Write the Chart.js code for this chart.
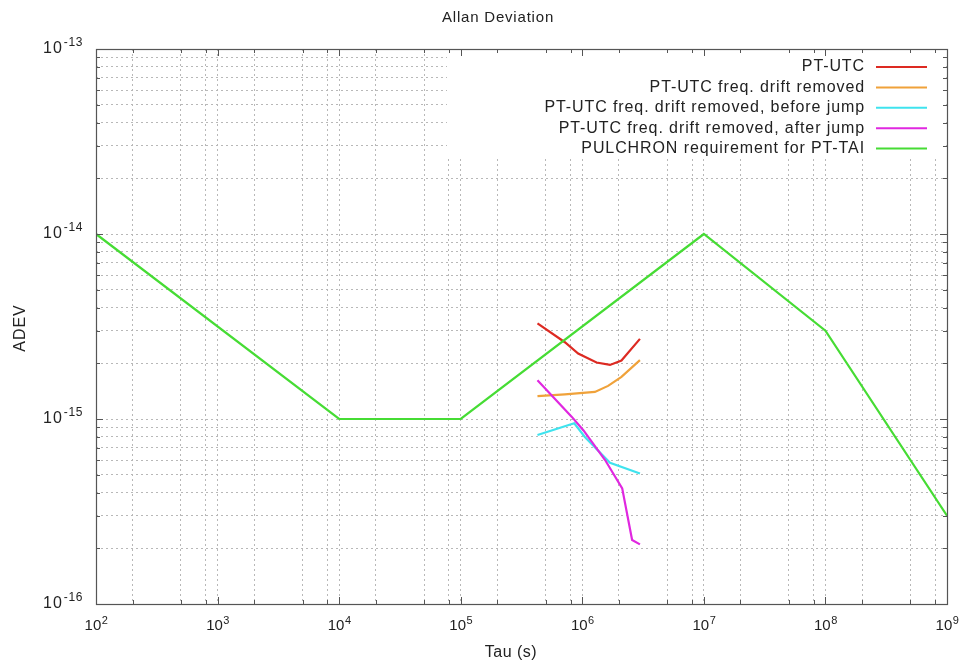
<!DOCTYPE html>
<html>
<head>
<meta charset="utf-8">
<script src="https://cdn.jsdelivr.net/npm/chart.js@4/dist/chart.umd.min.js"></script>
<style>
  html, body { margin: 0; padding: 0; background: #fff; }
  #wrap { width: 961px; height: 664px; }
</style>
</head>
<body>
<div id="wrap"><canvas id="graph" width="961" height="664"></canvas></div>
<script>
// Series (tau in s, ADEV dimensionless)
const tauPtUtc = [4.28e5, 7.19e5, 9.25e5, 1.31e6, 1.69e6, 2.10e6, 2.98e6];
const adevPtUtc = [3.29e-15, 2.60e-15, 2.26e-15, 2.02e-15, 1.96e-15, 2.07e-15, 2.71e-15];

const tauDrift = [4.28e5, 7.19e5, 1.27e6, 1.63e6, 2.10e6, 2.98e6];
const adevDrift = [1.33e-15, 1.36e-15, 1.40e-15, 1.51e-15, 1.69e-15, 2.08e-15];

const tauBefore = [4.28e5, 8.59e5, 1.05e6, 1.69e6, 2.98e6];
const adevBefore = [8.2e-16, 9.48e-16, 8.0e-16, 5.8e-16, 5.08e-16];

const tauAfter = [4.28e5, 8.17e5, 1.02e6, 1.54e6, 2.13e6, 2.57e6, 2.98e6];
const adevAfter = [1.62e-15, 1.03e-15, 8.7e-16, 6.0e-16, 4.22e-16, 2.22e-16, 2.1e-16];

const tauReq = [1e2, 1e4, 1e5, 1e7, 1e8, 1e9];
const adevReq = [1e-14, 1e-15, 1e-15, 1e-14, 3e-15, 3e-16];

const seriesNames = [
  'PT-UTC',
  'PT-UTC freq. drift removed',
  'PT-UTC freq. drift removed, before jump',
  'PT-UTC freq. drift removed, after jump',
  'PULCHRON requirement for PT-TAI'
];
const seriesColors = ['#dd2a22', '#f0a23a', '#3fe3ee', '#e028e0', '#46dc34'];

// axis decades and minor tick multipliers
const xDecades = [2, 3, 4, 5, 6, 7, 8, 9];
const yDecades = [-16, -15, -14, -13];
const xMinor = [2, 5, 8];
const yMinor = [2, 3, 4, 5, 6, 7, 8, 9];

function tickList(decades, minor) {
  const out = [];
  decades.forEach((d, i) => {
    out.push({ value: Math.pow(10, d), major: true });
    if (i < decades.length - 1) {
      minor.forEach(m => out.push({ value: m * Math.pow(10, d), major: false }));
    }
  });
  return out;
}
const xTicks = tickList(xDecades, xMinor);
const yTicks = tickList(yDecades, yMinor);

function pts(tau, adev) {
  return tau.map((t, i) => ({ x: t, y: adev[i] }));
}

const FONT = '"Liberation Sans", Arial, sans-serif';

function spacedText(ctx, text, x, y, spacing) {
  ctx.letterSpacing = spacing + 'px';
  ctx.fillText(text, x, y);
  ctx.letterSpacing = '0px';
}

// gnuplot-ish frame, inward ticks, labels and opaque key
const gnuplotLook = {
  id: 'gnuplotLook',
  beforeDatasetsDraw(chart) {
    const ctx = chart.ctx, a = chart.chartArea;
    ctx.save();
    ctx.fillStyle = '#ffffff';
    ctx.fillRect(447, a.top + 1, a.right - 447 - 1, 106);
    ctx.restore();
  },
  afterDraw(chart) {
    const ctx = chart.ctx, a = chart.chartArea;
    const xs = chart.scales.x, ys = chart.scales.y;
    ctx.save();

    // frame
    ctx.strokeStyle = '#555555';
    ctx.lineWidth = 1.2;
    ctx.strokeRect(a.left + 0.5, a.top + 0.5, a.right - a.left, a.bottom - a.top);

    // tick marks
    ctx.lineWidth = 1;
    ctx.beginPath();
    xTicks.forEach(t => {
      const px = Math.round(xs.getPixelForValue(t.value)) + 0.5;
      const len = t.major ? 7 : 4;
      ctx.moveTo(px, a.bottom); ctx.lineTo(px, a.bottom - len);
      ctx.moveTo(px, a.top); ctx.lineTo(px, a.top + len);
    });
    yTicks.forEach(t => {
      const py = Math.round(ys.getPixelForValue(t.value)) + 0.5;
      const len = t.major ? 7 : 4;
      ctx.moveTo(a.left, py); ctx.lineTo(a.left + len, py);
      ctx.moveTo(a.right, py); ctx.lineTo(a.right - len, py);
    });
    ctx.stroke();

    // tick labels 10^n
    ctx.fillStyle = '#222222';
    ctx.textBaseline = 'alphabetic';
    yDecades.forEach(d => {
      const py = ys.getPixelForValue(Math.pow(10, d));
      const exp = String(d);
      ctx.font = '12px ' + FONT;
      ctx.letterSpacing = '0.6px';
      const we = ctx.measureText(exp).width;
      ctx.textAlign = 'left';
      ctx.fillText(exp, 83 - we, py - 3);
      ctx.font = '16px ' + FONT;
      ctx.letterSpacing = '1px';
      ctx.textAlign = 'right';
      ctx.fillText('10', 83 - we - 1, py + 4);
      ctx.letterSpacing = '0px';
    });
    xDecades.forEach(d => {
      const px = xs.getPixelForValue(Math.pow(10, d));
      const exp = String(d);
      ctx.font = '15px ' + FONT;
      const wb = ctx.measureText('10').width;
      ctx.font = '11px ' + FONT;
      const we = ctx.measureText(exp).width;
      const x0 = px - (wb + we) / 2;
      ctx.textAlign = 'left';
      ctx.font = '15px ' + FONT;
      ctx.fillText('10', x0, 630);
      ctx.font = '11px ' + FONT;
      ctx.fillText(exp, x0 + wb + 0.5, 624);
    });

    // titles
    ctx.textAlign = 'center';
    ctx.textBaseline = 'middle';
    ctx.font = '15px ' + FONT;
    spacedText(ctx, 'Allan Deviation', 498, 18, 0.8);
    ctx.font = '16px ' + FONT;
    spacedText(ctx, 'Tau (s)', 511, 653, 0.5);
    ctx.save();
    ctx.translate(21, 328);
    ctx.rotate(-Math.PI / 2);
    spacedText(ctx, 'ADEV', 0, 0, 1);
    ctx.restore();

    // key
    ctx.font = '16px ' + FONT;
    ctx.textAlign = 'right';
    ctx.lineWidth = 2;
    seriesNames.forEach((name, i) => {
      const y = 67 + i * 20.4;
      ctx.fillStyle = '#222222';
      spacedText(ctx, name, 865, y, 0.9);
      ctx.strokeStyle = seriesColors[i];
      ctx.beginPath();
      ctx.moveTo(876, y); ctx.lineTo(927, y);
      ctx.stroke();
    });
    ctx.restore();
  }
};

const allTau = [tauPtUtc, tauDrift, tauBefore, tauAfter, tauReq];
const allAdev = [adevPtUtc, adevDrift, adevBefore, adevAfter, adevReq];
const drawOrder = [5, 4, 3, 2, 1];

const data = {
  datasets: seriesNames.map((name, i) => ({
    label: name,
    data: pts(allTau[i], allAdev[i]),
    borderColor: seriesColors[i],
    backgroundColor: seriesColors[i],
    borderWidth: 2.2,
    pointRadius: 0,
    showLine: true,
    tension: 0,
    order: drawOrder[i]
  }))
};

function gridColor(ticks) {
  return (c) => {
    const v = c.tick && c.tick.value;
    if (v === ticks[0].value || v === ticks[ticks.length - 1].value) return 'rgba(0,0,0,0)';
    return '#b8b8b8';
  };
}

const config = {
  type: 'scatter',
  data: data,
  options: {
    responsive: false,
    animation: false,
    layout: { padding: { left: 96, top: 49, right: 14, bottom: 60 } },
    plugins: {
      legend: { display: false },
      tooltip: { enabled: false },
      title: { display: false }
    },
    scales: {
      x: {
        type: 'logarithmic',
        min: 1e2,
        max: 1e9,
        afterBuildTicks: (s) => { s.ticks = xTicks.map(t => ({ value: t.value })); },
        ticks: { display: false },
        grid: { color: gridColor(xTicks), lineWidth: 1, drawTicks: false },
        border: { display: false, dash: [2, 3] }
      },
      y: {
        type: 'logarithmic',
        min: 1e-16,
        max: 1e-13,
        afterBuildTicks: (s) => { s.ticks = yTicks.map(t => ({ value: t.value })); },
        ticks: { display: false },
        grid: { color: gridColor(yTicks), lineWidth: 1, drawTicks: false },
        border: { display: false, dash: [2, 3] }
      }
    }
  },
  plugins: [gnuplotLook]
};

const myChart = new Chart(document.getElementById('graph').getContext('2d'), config);
</script>
</body>
</html>
